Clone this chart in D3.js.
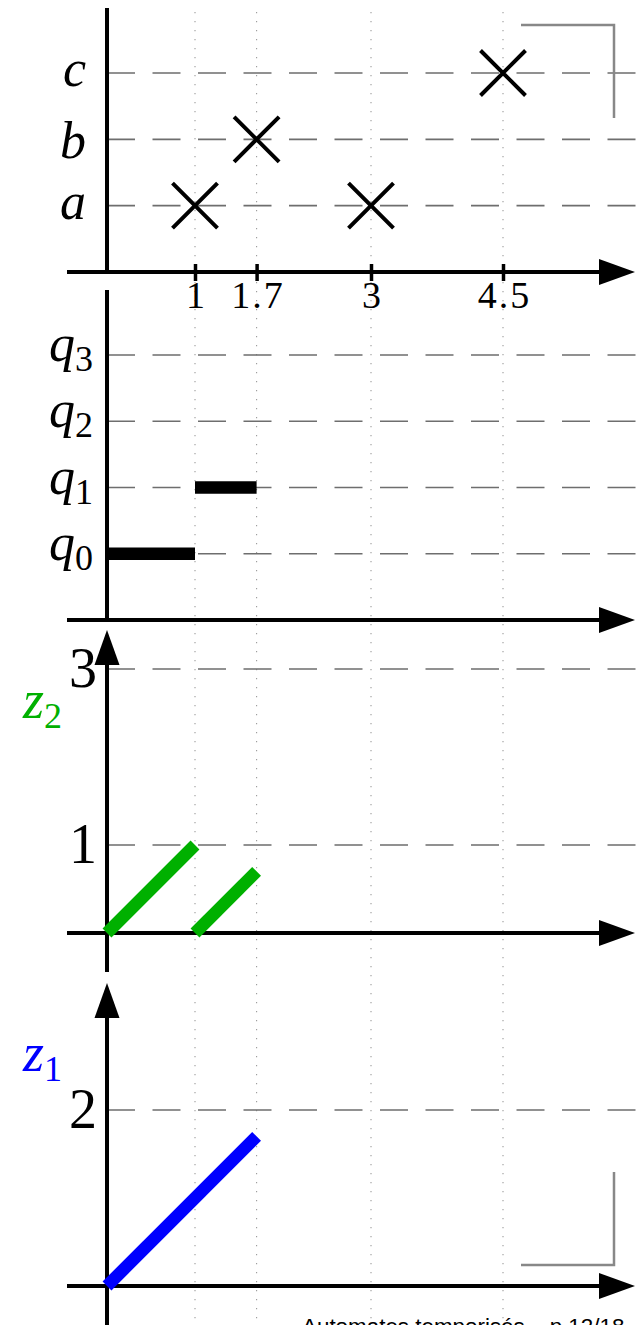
<!DOCTYPE html>
<html>
<head>
<meta charset="utf-8">
<script src="https://cdn.jsdelivr.net/npm/d3@7"></script>
<style>
  html, body { margin: 0; padding: 0; background: #fff; }
  svg { display: block; }
</style>
</head>
<body>
<svg id="chart" width="636" height="1325"></svg>
<script>
// ---- data -------------------------------------------------------------
const tickTimes   = [1, 1.7, 3, 4.5];
const tickLabels  = ["1", "1.7", "3", "4.5"];

const eventNames  = ["a", "b", "c"];          // levels of the event panel
const eventTimes  = [1, 1.7, 3, 4.5];
const eventLetter = ["a", "b", "a", "c"];

const stateNames  = ["0", "1", "2", "3"];     // subscripts of q
const stateFrom   = [0, 1];
const stateTo     = [1, 1.7];
const stateIndex  = [0, 1];

const z2Grid      = [1, 3];
const z2From      = [[0, 0], [1, 0]];
const z2To        = [[1, 1], [1.7, 0.7]];

const z1Grid      = [2];
const z1From      = [[0, 0]];
const z1To        = [[1.7, 1.7]];

const footerText  = "Automates temporisés – p.12/18";

// ---- layout -----------------------------------------------------------
const svg = d3.select("#chart");
const W = 636;
const x = d3.scaleLinear().domain([0, 6]).range([107, 635]);
const x0 = x(0);

const yEv = d3.scaleLinear().domain([0, 3]).range([272, 73]);
const yQ  = d3.scaleLinear().domain([0, 4]).range([620, 355]);
const yZ2 = d3.scaleLinear().domain([0, 3]).range([933, 669]);
const yZ1 = d3.scaleLinear().domain([0, 2]).range([1286, 1110]);

const serif = "'Liberation Serif', 'Times New Roman', serif";
const GRID = "#6e6e6e";

// dotted time markers across all panels
svg.append("g").selectAll("line").data(tickTimes).join("line")
  .attr("x1", d => x(d)).attr("x2", d => x(d))
  .attr("y1", 12).attr("y2", 1325)
  .attr("stroke", "#9a9a9a").attr("stroke-width", 1.1)
  .attr("stroke-dasharray", "1.2 7.8");

// dashed horizontal guides
function guides(values, y) {
  svg.append("g").selectAll("line").data(values).join("line")
    .attr("x1", x0).attr("x2", W)
    .attr("y1", d => y(d)).attr("y2", d => y(d))
    .attr("stroke", GRID).attr("stroke-width", 1.6)
    .attr("stroke-dasharray", "28 17.5");
}
guides(eventNames.map((_, i) => i + 1), yEv);
guides(stateNames.map((_, i) => i + 1), yQ);
guides(z2Grid, yZ2);
guides(z1Grid, yZ1);

// axis lines with arrow heads
function hAxis(yPix) {
  svg.append("line").attr("x1", 67).attr("x2", 601)
    .attr("y1", yPix).attr("y2", yPix)
    .attr("stroke", "#000").attr("stroke-width", 4);
  svg.append("path")
    .attr("d", `M599,${yPix - 13}L635,${yPix}L599,${yPix + 13}Z`)
    .attr("fill", "#000");
}
function vAxis(top, bottom, arrow) {
  svg.append("line").attr("x1", x0).attr("x2", x0)
    .attr("y1", arrow ? top + 30 : top).attr("y2", bottom)
    .attr("stroke", "#000").attr("stroke-width", 4);
  if (arrow) {
    svg.append("path")
      .attr("d", `M${x0 - 12.5},${top + 35}L${x0},${top}L${x0 + 12.5},${top + 35}Z`)
      .attr("fill", "#000");
  }
}

// ---- panel 1 : events ---------------------------------------------------
vAxis(8, yEv(0), false);
hAxis(yEv(0));

const axisT = d3.axisBottom(x)
  .tickValues(tickTimes)
  .tickFormat((d, i) => tickLabels[i])
  .tickSizeInner(9).tickSizeOuter(0).tickPadding(0);
const gT = svg.append("g").attr("transform", `translate(0,${yEv(0)})`).call(axisT);
gT.select(".domain").remove();
gT.selectAll(".tick line").attr("y1", -8).attr("y2", 9)
  .attr("stroke", "#000").attr("stroke-width", 3.5);
gT.selectAll(".tick text")
  .attr("font-family", serif).attr("font-size", 38)
  .attr("letter-spacing", 2).attr("dx", 1).attr("fill", "#000");

const ascenders = "bdfhklt";
svg.append("g").selectAll("text").data(eventNames).join("text")
  .attr("x", 86).attr("y", (d, i) => yEv(i + 1))
  .attr("dy", d => ascenders.includes(d) ? "0.35em" : "0.25em")
  .attr("text-anchor", "end")
  .attr("font-family", serif).attr("font-style", "italic")
  .attr("font-size", 52).text(d => d);

const cross = 22.5;
svg.append("g").selectAll("path").data(eventTimes).join("path")
  .attr("transform", (d, i) =>
    `translate(${x(d)},${yEv(eventNames.indexOf(eventLetter[i]) + 1)})`)
  .attr("d", `M${-cross},${-cross}L${cross},${cross}M${-cross},${cross}L${cross},${-cross}`)
  .attr("stroke", "#000").attr("stroke-width", 4).attr("fill", "none");

// ---- panel 2 : locations -------------------------------------------------
vAxis(290, yQ(0), false);
hAxis(yQ(0));

const qLab = svg.append("g").selectAll("text").data(stateNames).join("text")
  .attr("x", 93).attr("y", (d, i) => yQ(i + 1) + 6)
  .attr("text-anchor", "end")
  .attr("font-family", serif).attr("font-size", 52);
qLab.append("tspan").attr("font-style", "italic").text("q");
qLab.append("tspan").attr("font-size", 36).attr("dy", 10).text(d => d);

svg.append("g").selectAll("line").data(stateFrom).join("line")
  .attr("x1", d => x(d)).attr("x2", (d, i) => x(stateTo[i]))
  .attr("y1", (d, i) => yQ(stateIndex[i] + 1))
  .attr("y2", (d, i) => yQ(stateIndex[i] + 1))
  .attr("stroke", "#000").attr("stroke-width", 12.5);

// ---- clock panels ---------------------------------------------------------
function clockPanel(y, top, bottom, grid, from, to, color, sub) {
  vAxis(top, bottom, true);
  hAxis(y(0));
  svg.append("g").selectAll("text").data(grid).join("text")
    .attr("x", 97).attr("y", d => y(d)).attr("dy", "0.33em")
    .attr("text-anchor", "end")
    .attr("font-family", serif).attr("font-size", 56).text(d => d);
  svg.append("g").selectAll("line").data(from).join("line")
    .attr("x1", d => x(d[0])).attr("y1", d => y(d[1]))
    .attr("x2", (d, i) => x(to[i][0])).attr("y2", (d, i) => y(to[i][1]))
    .attr("stroke", color).attr("stroke-width", 12.5);
  const t = svg.append("text")
    .attr("x", 62).attr("y", y(2.5) + 5)
    .attr("text-anchor", "end")
    .attr("font-family", serif).attr("font-size", 54).attr("fill", color);
  t.append("tspan").attr("font-style", "italic").text("z");
  t.append("tspan").attr("font-size", 36).attr("dy", 10).text(sub);
}
clockPanel(yZ2, 630, 972, z2Grid, z2From, z2To, "#00b000", "2");
clockPanel(yZ1, 983, 1325, z1Grid, z1From, z1To, "#0000ff", "1");

// ---- frame corners and footer ---------------------------------------------
svg.append("path").attr("d", "M521,25H614V118")
  .attr("fill", "none").attr("stroke", "#888").attr("stroke-width", 2.5);
svg.append("path").attr("d", "M614,1172V1265H521")
  .attr("fill", "none").attr("stroke", "#888").attr("stroke-width", 2.5);

svg.append("text").attr("x", 302).attr("y", 1334)
  .attr("font-family", "'Liberation Sans', Arial, sans-serif")
  .attr("font-size", 22.4).attr("fill", "#000").text(footerText);
</script>
</body>
</html>
